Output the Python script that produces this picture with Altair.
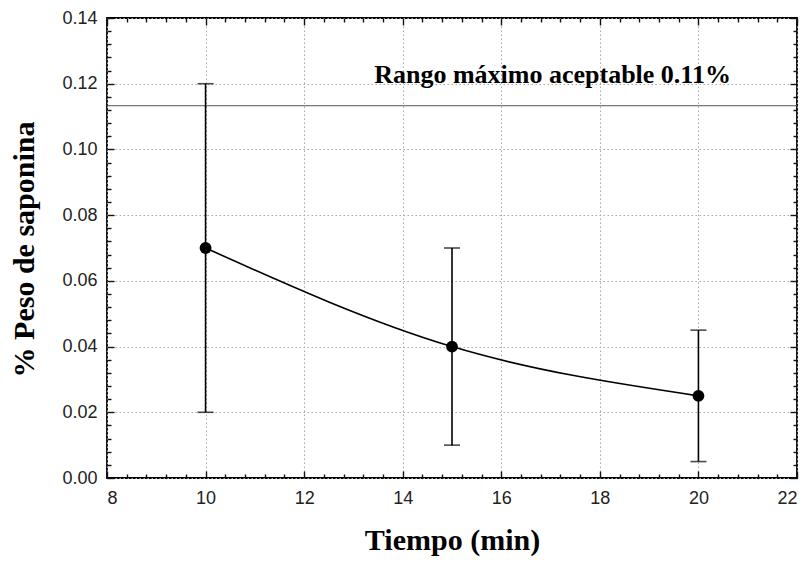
import altair as alt
import pandas as pd
import numpy as np

# ---- data ----
tiempo = [10, 15, 20]
peso = [0.070, 0.040, 0.025]
err_low = [0.020, 0.010, 0.005]
err_high = [0.120, 0.070, 0.045]

limite = [0.1133]
etiqueta = ["Rango máximo aceptable 0.11%"]
etiqueta_x = [17.04]
etiqueta_y = [0.1202]

x_major = [8, 10, 12, 14, 16, 18, 20, 22]
y_major = [0.00, 0.02, 0.04, 0.06, 0.08, 0.10, 0.12, 0.14]
x_minor = [round(v, 2) for v in np.arange(8, 22.001, 0.4) if abs(v / 2 - round(v / 2)) > 1e-6]
y_minor = [round(v, 4) for v in np.arange(0, 0.1401, 0.004) if abs(v / 0.02 - round(v / 0.02)) > 1e-6]

df = pd.DataFrame({"tiempo": tiempo, "peso": peso, "lo": err_low, "hi": err_high})
df_lim = pd.DataFrame({"y": limite})
df_txt = pd.DataFrame({"x": etiqueta_x, "y": etiqueta_y, "t": etiqueta})

xs = alt.Scale(domain=[8, 22], nice=False, zero=False)
ys = alt.Scale(domain=[0, 0.14], nice=False, zero=False)

LABEL_FONT = "Liberation Sans"
TITLE_FONT = "Liberation Serif"


def axis_layer(xaxis, yaxis):
    return alt.Chart(df).mark_point(opacity=0).encode(
        x=alt.X("tiempo:Q", scale=xs, axis=xaxis),
        y=alt.Y("peso:Q", scale=ys, axis=yaxis),
    )


def tick_axis(orient, values, size, labels=False, fmt=None, pad=0):
    kw = dict(
        orient=orient, values=values, offset=-size, ticks=True, tickSize=size,
        tickWidth=1.4, tickColor="#111", tickOpacity=1, domain=False, grid=False,
        title=None, labels=labels, zindex=2,
    )
    if labels:
        kw.update(labelFont=LABEL_FONT, labelFontSize=18, labelColor="#222",
                  labelPadding=pad, format=fmt)
    return alt.Axis(**kw)


grid_layer = axis_layer(
    alt.Axis(orient="bottom", values=x_major, grid=True, gridColor="#a8a8a8",
             gridDash=[1.5, 2.5], gridWidth=1, ticks=False, labels=False, domain=False,
             title="Tiempo (min)", titleFont=TITLE_FONT, titleFontSize=30,
             titleFontWeight="bold", titleColor="black", titleX=345, titleY=71,
             titleBaseline="alphabetic", titleAlign="center"),
    alt.Axis(orient="left", values=y_major, grid=True, gridColor="#a8a8a8",
             gridDash=[1.5, 2.5], gridWidth=1, ticks=False, labels=False, domain=False,
             title="% Peso de saponina", titleFont=TITLE_FONT, titleFontSize=30,
             titleFontWeight="bold", titleColor="black", titleX=-74, titleY=231,
             titleBaseline="alphabetic", titleAlign="center", titleAngle=270),
)

major_bl = axis_layer(tick_axis("bottom", x_major, 7, True, "d", 11),
                      tick_axis("left", y_major, 7, True, ".2f", 10))
minor_bl = axis_layer(tick_axis("bottom", x_minor, 4), tick_axis("left", y_minor, 4))
major_tr = axis_layer(tick_axis("top", x_major, 7), tick_axis("right", y_major, 7))
minor_tr = axis_layer(tick_axis("top", x_minor, 4), tick_axis("right", y_minor, 4))

base = alt.Chart(df)
X = alt.X("tiempo:Q", scale=xs, axis=None)

err_rules = base.mark_rule(color="black", strokeWidth=1.6).encode(
    x=X, y=alt.Y("lo:Q", scale=ys, axis=None), y2="hi:Q")
caps_lo = base.mark_tick(color="black", orient="horizontal", size=16, thickness=1.6).encode(
    x=X, y=alt.Y("lo:Q", scale=ys, axis=None))
caps_hi = base.mark_tick(color="black", orient="horizontal", size=16, thickness=1.6).encode(
    x=X, y=alt.Y("hi:Q", scale=ys, axis=None))
line = base.mark_line(color="black", strokeWidth=1.6, interpolate="monotone").encode(
    x=X, y=alt.Y("peso:Q", scale=ys, axis=None))
pts = base.mark_circle(color="black", size=140, opacity=1).encode(
    x=X, y=alt.Y("peso:Q", scale=ys, axis=None))

lim_rule = alt.Chart(df_lim).mark_rule(color="#555", strokeWidth=1).encode(
    y=alt.Y("y:Q", scale=ys, axis=None))
txt = alt.Chart(df_txt).mark_text(
    font=TITLE_FONT, fontSize=26, fontWeight="bold", color="black",
    align="center", baseline="alphabetic").encode(
    x=alt.X("x:Q", scale=xs, axis=None), y=alt.Y("y:Q", scale=ys, axis=None), text="t:N")

chart = alt.layer(
    grid_layer, major_bl, minor_bl, major_tr, minor_tr,
    lim_rule, err_rules, caps_lo, caps_hi, line, pts, txt,
).resolve_axis(x="independent", y="independent").properties(
    width=690, height=460,
    autosize=alt.AutoSizeParams(type="none"),
    padding={"left": 107, "top": 18, "right": 12, "bottom": 83},
    background="white",
).configure_view(stroke="black", strokeWidth=1.8)

chart.save("out.html", embed_options={"renderer": "svg", "actions": False})
